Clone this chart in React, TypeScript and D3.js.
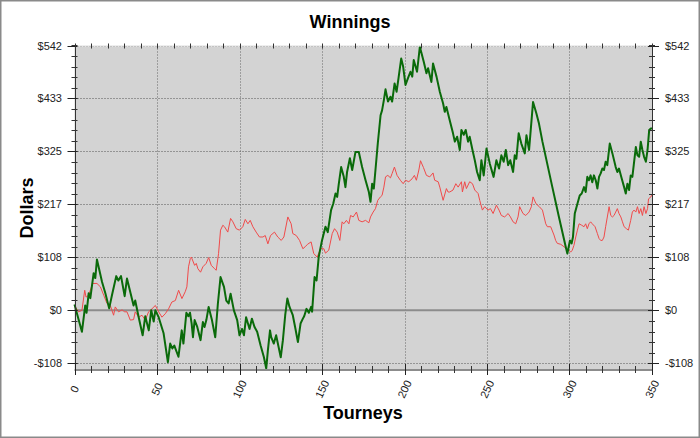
import React from "react";
import * as d3 from "d3";

const W = 700;
const H = 438;

const titleText = "Winnings";
const xAxisTitle = "Tourneys";
const yAxisTitle = "Dollars";

const xTickValues = [0, 50, 100, 150, 200, 250, 300, 350];
const xTickLabels = ["0", "50", "100", "150", "200", "250", "300", "350"];
const yTickValues = [-108.333, 0, 108.333, 216.667, 325, 433.333, 541.667];
const yTickLabels = ["-$108", "$0", "$108", "$217", "$325", "$433", "$542"];

// [tourney, dollars] — thick green series
const greenSeries: [number, number][] = [
  [0, 12], [4.5, -44], [6.5, 10], [7.3, -5], [8.6, 35], [9.6, 25], [11.6, 76], [12.6, 66], [13.6, 104],
  [16.7, 58], [18.7, 35], [21, 4], [22.7, 31], [25.3, 70], [26.6, 61], [28.2, 70], [30.4, 29], [31.8, 65],
  [35.8, 10], [36.8, 20], [38.9, -14], [41.3, -51], [42.9, -12], [45, -41], [46.5, 0], [48, -23], [49, 0],
  [51, -14], [54, -47], [56.6, -106], [58, -68], [59.3, -78], [60.5, -72], [63, -95], [65, -41], [66, -68],
  [67.8, -5], [69, -12], [70, -5], [71, -27], [71.8, -55], [72.8, -20], [74.4, -34], [76.4, -61], [77.8, -24],
  [78.8, -34], [79.9, -20], [81.3, 7], [83.3, -20], [85.3, -55], [86.9, 14], [88.5, 68], [90.6, 48], [92, 20],
  [93.4, 14], [94.6, 34], [96.6, 0], [98.6, -20], [100, -51], [101.5, -38], [102.7, -51], [104, -14],
  [106.1, -38], [107.5, -17], [109.1, -34], [110.7, -44], [112.8, -72], [114.8, -96], [116.2, -119],
  [117.2, -82], [118.5, -41], [119.2, -55], [120.8, -68], [122.2, -51], [123.7, -75], [125, -96], [126.3, -61],
  [127.7, -10], [129, 24], [130.3, 7], [132.3, -10], [133.7, -34], [135.4, -65], [137, -27], [138.4, -17],
  [139.2, -12], [140.6, 3], [142, -5], [143.4, 7], [144, -3], [145.5, 68], [146.7, 61], [148, 109], [150, 143],
  [152.1, 171], [153.5, 160], [155.5, 205], [156.8, 218], [158.2, 239], [159.2, 232], [160.2, 259],
  [161.6, 293], [163.2, 273], [164.2, 252], [165.2, 283], [166.9, 311], [168.3, 287], [170.3, 324],
  [172.3, 324], [174.3, 293], [176.4, 266], [178.4, 242], [179.4, 222], [180.4, 259], [181.4, 249],
  [182.4, 287], [183.8, 341], [185.5, 399], [186.4, 409], [187.5, 430], [188.5, 452], [190, 427],
  [191.5, 437], [192.5, 427], [194, 464], [195.2, 447], [196.5, 478], [198, 515], [199.2, 498], [200.6, 461],
  [202, 474], [203.6, 488], [204.7, 478], [205.6, 512], [207.6, 488], [209.3, 539], [211.7, 508],
  [213.3, 485], [214.3, 495], [216.3, 467], [217.3, 505], [219.4, 478], [221.4, 447], [223.4, 423],
  [224.4, 406], [225.4, 416], [227.4, 389], [229.4, 362], [230.5, 345], [231.9, 355], [233.5, 328],
  [234.5, 369], [235.9, 359], [237.1, 369], [238.5, 345], [239.5, 355], [241.2, 328], [242.6, 307],
  [244, 283], [245.6, 266], [246.6, 307], [248, 276], [249.7, 331], [251.7, 300], [254, 273], [255.7, 307],
  [257.3, 290], [258.7, 317], [260.1, 304], [261.4, 328], [262.8, 297], [264.1, 307], [265.8, 283],
  [266.8, 317], [267.8, 310], [269.2, 362], [270.8, 341], [272.9, 321], [273.9, 358], [275.5, 328],
  [277.9, 426], [279.9, 403], [281.5, 382], [283.6, 345], [289.6, 252], [293.6, 191], [297.7, 130],
  [298.7, 116], [299.7, 133], [300.3, 143], [301.3, 137], [302.1, 150], [303.2, 198], [304.8, 218],
  [306.2, 235], [307.4, 239], [308.8, 252], [309.8, 242], [310.8, 273], [311.8, 266], [312.8, 276],
  [313.8, 262], [314.8, 276], [315.9, 266], [316.9, 249], [317.9, 273], [318.9, 280], [319.9, 290],
  [320.9, 287], [321.9, 304], [322.9, 297], [324.4, 341], [326, 321], [328, 293], [329, 283], [330, 290],
  [331.6, 270], [333.1, 252], [334.1, 239], [335.1, 259], [336.1, 246], [337.1, 276], [338.1, 273],
  [340.2, 334], [341.2, 317], [342.2, 314], [343.2, 345], [344.2, 328], [345.2, 314], [346.3, 304],
  [347.3, 328], [348.3, 369], [349.3, 372], [350, 372],
];

// [tourney, dollars] — thin red series
const redSeries: [number, number][] = [
  [0, 10], [0.5, 7], [2.5, -3], [4.5, 0], [6.2, 41], [7, 27], [8.6, 31], [11, 55], [13.6, 55], [15.7, 48],
  [17.7, 31], [19.7, 14], [21.7, 10], [23.7, -10], [24.7, 7], [26.7, -3], [28.8, 1], [30.4, -3], [31.8, -3],
  [33.8, -20], [35.8, -19], [36.8, -3], [38.9, -14], [40.9, -10], [42.9, -20], [44.9, -3], [46.9, 3],
  [49, 10], [51, -3], [53, -14], [55, -7], [57, 3], [59, 17], [61.1, 20], [63.1, 41], [65.1, 24], [67.1, 38],
  [68.1, 48], [69.1, 89], [70.2, 106], [70.8, 109], [72.8, 92], [73.8, 96], [74.8, 85], [76.4, 78],
  [77.8, 89], [79.8, 96], [81.3, 108], [82.9, 92], [84.9, 85], [85.9, 82], [87.3, 116], [88.5, 164],
  [89.9, 174], [90.9, 171], [92.9, 160], [94.6, 188], [96, 181], [98, 167], [100, 164], [102, 171],
  [103.5, 186], [105.1, 177], [106.5, 184], [108.1, 171], [110.1, 160], [112.1, 150], [114.2, 150],
  [115.6, 153], [117.2, 136], [118.8, 153], [121.2, 160], [123.2, 150], [125.3, 143], [126.9, 150],
  [129.3, 191], [131.3, 177], [132.3, 157], [134.4, 153], [136.4, 143], [138.4, 126], [139.8, 130],
  [141.2, 135], [143.4, 140], [145, 116], [147.1, 109], [149.1, 126], [151.1, 126], [152.1, 117],
  [154.1, 123], [156.2, 157], [157.6, 167], [159.2, 160], [160.8, 143], [162.2, 181], [163.2, 177],
  [164.8, 184], [166.3, 177], [167.3, 194], [168.9, 191], [170.9, 201], [172.3, 184], [174.3, 181],
  [176.4, 184], [178.4, 179], [179.4, 191], [181, 201], [182.4, 208], [183.8, 225], [185.4, 232],
  [186.4, 235], [187.5, 252], [188.5, 273], [189.9, 276], [191.5, 271], [192.5, 280], [193.9, 293],
  [195.5, 276], [197.5, 266], [199.2, 259], [200.6, 266], [202.6, 263], [204.6, 269], [206, 276],
  [207.2, 266], [208.7, 287], [209.7, 306], [211.5, 292], [213.3, 276], [215.3, 273], [217.3, 281],
  [218.3, 266], [220.4, 263], [221.4, 252], [223.4, 225], [225.4, 249], [226.4, 242], [227.4, 242],
  [229.4, 246], [231.1, 259], [232.5, 252], [234.5, 263], [235.1, 242], [236.5, 263], [237.5, 249],
  [239.5, 263], [241.2, 259], [242.6, 246], [244.6, 239], [245.6, 225], [247.2, 205], [248.6, 212],
  [250.6, 205], [252.1, 208], [253.7, 198], [255.7, 215], [257.3, 205], [258.7, 194], [260.7, 191],
  [262.8, 198], [264.2, 191], [265.8, 181], [267.4, 177], [268.8, 191], [269.8, 212], [271.8, 198],
  [273.5, 194], [275.5, 201], [276.9, 212], [277.9, 232], [279.7, 218], [281.7, 212], [283.6, 205],
  [285.6, 177], [286.6, 171], [288.6, 171], [290.6, 154], [291.6, 143], [292.6, 137], [294.7, 135],
  [296.7, 130], [298.1, 126], [299.7, 123], [300.7, 119], [301.7, 123], [302.7, 133], [303.8, 150],
  [304.8, 164], [305.8, 177], [307.4, 174], [308.8, 171], [309.8, 177], [310.8, 167], [311.8, 177],
  [312.8, 181], [313.8, 177], [315.5, 171], [316.9, 157], [317.9, 147], [318.9, 143], [319.9, 143],
  [320.9, 150], [321.9, 171], [324, 212], [325, 194], [326, 191], [327, 194], [328, 201], [329, 208],
  [330, 198], [331.1, 191], [332.1, 181], [333.1, 171], [334.5, 167], [335.7, 164], [337.1, 184],
  [338.1, 201], [339.1, 205], [340.2, 201], [341.2, 212], [342.2, 198], [343.2, 208], [344.2, 194],
  [345.2, 212], [346.3, 198], [347.3, 208], [347.9, 228], [349.3, 232], [350, 236],
];

const FONT = "Arial, 'Liberation Sans', sans-serif";

export default function App() {
  const x = d3.scaleLinear().domain([0, 350]).range([74.5, 652]);
  const y = d3.scaleLinear().domain([-120, 541.667]).range([369, 45.5]);
  const line = d3
    .line<[number, number]>()
    .x((d) => x(d[0]))
    .y((d) => y(d[1]));

  const left = x(0);
  const right = x(350);
  const top = y(541.667);
  const bottom = y(-120);

  const xMinor = d3.range(0, 351, 10);
  const yMinor = d3.range(-5, 26).map((k) => k * 21.6667).filter((v) => v >= -120 && v <= 542);
  const r = (v: number) => Math.round(v) + 0.5;

  return (
    <svg
      width={W}
      height={H}
      style={{ position: "absolute", left: 0, top: 0, background: "#fff" }}
      fontFamily={FONT}
    >
      <rect x={0.75} y={0.75} width={W - 1.5} height={H - 1.5} fill="#fff" stroke="#8a8a8a" strokeWidth={1.5} />
      <rect x={left} y={top} width={right - left} height={bottom - top} fill="#d3d3d3" />

      {/* grid */}
      {yTickValues.map((v, i) => (
        <line key={"gy" + i} x1={left} x2={right} y1={r(y(v))} y2={r(y(v))} stroke="#555" strokeDasharray="1,2" />
      ))}
      {xTickValues.slice(1, -1).map((v, i) => (
        <line key={"gx" + i} x1={r(x(v))} x2={r(x(v))} y1={top} y2={bottom} stroke="#666" strokeDasharray="1,2" />
      ))}

      {/* zero line */}
      <line x1={left} x2={right} y1={y(0)} y2={y(0)} stroke="#8c8c8c" strokeWidth={2} />

      {/* series */}
      <path d={line(redSeries) || ""} fill="none" stroke="#f04a4a" strokeWidth={1} />
      <path d={line(greenSeries) || ""} fill="none" stroke="#0a6a0a" strokeWidth={2} strokeLinejoin="round" />

      {/* frame */}
      <line x1={left} x2={right} y1={top + 0.5} y2={top + 0.5} stroke="#f2f2f2" />
      <line x1={left} x2={right} y1={bottom + 1} y2={bottom + 1} stroke="#8c8c8c" strokeWidth={2} />
      <line x1={r(left)} x2={r(left)} y1={top} y2={bottom + 3} stroke="#333" />
      <line x1={r(right)} x2={r(right)} y1={top} y2={bottom + 3} stroke="#333" />

      {/* y ticks */}
      {yMinor.map((v, i) => (
        <g key={"ym" + i}>
          <line x1={left - 3} x2={left + 3} y1={r(y(v))} y2={r(y(v))} stroke="#333" />
          <line x1={right - 3} x2={right + 3} y1={r(y(v))} y2={r(y(v))} stroke="#333" />
        </g>
      ))}
      {yTickValues.map((v, i) => (
        <g key={"yt" + i}>
          <line x1={left - 7} x2={left + 3} y1={r(y(v))} y2={r(y(v))} stroke="#222" />
          <line x1={right - 4} x2={right + 7} y1={r(y(v))} y2={r(y(v))} stroke="#222" />
          <text x={62} y={y(v)} textAnchor="end" dominantBaseline="central" fontSize={11} fill="#222">
            {yTickLabels[i]}
          </text>
          <text x={665} y={y(v)} textAnchor="start" dominantBaseline="central" fontSize={11} fill="#222">
            {yTickLabels[i]}
          </text>
        </g>
      ))}

      {/* x ticks */}
      {xMinor.map((v, i) => (
        <g key={"xm" + i}>
          <line x1={r(x(v))} x2={r(x(v))} y1={bottom - 3} y2={bottom + 4} stroke="#333" />
          <line x1={r(x(v))} x2={r(x(v))} y1={top - 2} y2={top + 3} stroke="#333" />
        </g>
      ))}
      {xTickValues.map((v, i) => (
        <g key={"xt" + i}>
          <line x1={r(x(v))} x2={r(x(v))} y1={bottom - 5} y2={bottom + 6} stroke="#222" />
          <text
            transform={`translate(${x(v)},389) rotate(-65)`}
            textAnchor="middle"
            dominantBaseline="central"
            fontSize={11}
            fill="#222"
          >
            {xTickLabels[i]}
          </text>
        </g>
      ))}

      {/* titles */}
      <text x={350} y={28} textAnchor="middle" fontSize={18} fontWeight="bold" fill="#000">
        {titleText}
      </text>
      <text x={363} y={419} textAnchor="middle" fontSize={18} fontWeight="bold" fill="#000">
        {xAxisTitle}
      </text>
      <text
        transform={`translate(33,208) rotate(-90)`}
        textAnchor="middle"
        fontSize={18}
        fontWeight="bold"
        fill="#000"
      >
        {yAxisTitle}
      </text>
    </svg>
  );
}
